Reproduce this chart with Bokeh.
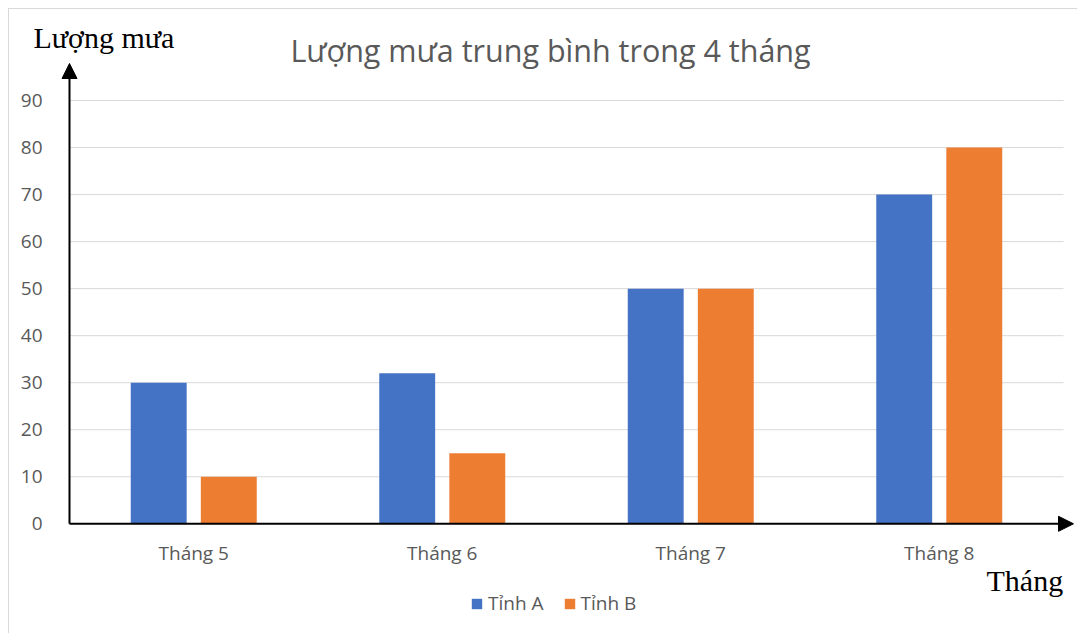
from bokeh.plotting import figure
from bokeh.models import (Range1d, FixedTicker, Arrow, NormalHead, Label,
                          Legend, LegendItem, ColumnDataSource)
from bokeh.transform import dodge
from bokeh.embed import file_html
from bokeh.resources import INLINE

months = ["Tháng 5", "Tháng 6", "Tháng 7", "Tháng 8"]
tinh_a = [30, 32, 50, 70]
tinh_b = [10, 15, 50, 80]
series_names = ["Tỉnh A", "Tỉnh B"]
y_ticks = [0, 10, 20, 30, 40, 50, 60, 70, 80, 90]
grid_ticks = [10, 20, 30, 40, 50, 60, 70, 80, 90]
title_text = "Lượng mưa trung bình trong 4 tháng"
y_title = "Lượng mưa"
x_title = "Tháng"

BLUE = "#4472C4"
ORANGE = "#ED7D31"
GRAY = "#595959"
GRID = "#D9D9D9"
SANS = "Open Sans"
SERIF = "Liberation Serif"

n = len(months)
pos = [i + 0.5 for i in range(n)]
src = ColumnDataSource(dict(x=pos, a=tinh_a, b=tinh_b))

# pixel geometry (page coordinates) -> data ranges
PX_X = 248.5          # pixels per category
PX_Y = 4.7033         # pixels per unit
X0, Y0 = 69, 523.3    # page position of the origin
FL, FR, FT, FB = 20, 1077, 15, 625   # frame edges on the page

x_start = (FL - X0) / PX_X
x_end = (FR - X0) / PX_X
y_start = (Y0 - FB) / PX_Y
y_end = (Y0 - FT) / PX_Y

W, H = 1069, 625
OX, OY = 9, 9   # canvas origin on page (margin + border)

p = figure(width=W, height=H,
           x_range=Range1d(x_start, x_end), y_range=Range1d(y_start, y_end),
           output_backend="svg", toolbar_location=None,
           min_border_left=FL - OX, min_border_right=W - (FR - OX),
           min_border_top=FT - OY, min_border_bottom=H - (FB - OY),
           background_fill_color="white", border_fill_color="white",
           outline_line_color=None)
p.styles = {"margin-left": "8px", "margin-top": "8px",
            "border-top": "1px solid #D9D9D9", "border-left": "1px solid #D9D9D9"}

p.xgrid.grid_line_color = None
p.ygrid.grid_line_color = None

# gridlines
p.segment(x0=[0] * len(grid_ticks), x1=[n] * len(grid_ticks),
          y0=grid_ticks, y1=grid_ticks, line_color=GRID, line_width=1)

BW = 0.225
OFF = 0.141
ra = p.vbar(x=dodge("x", -OFF), top="a", width=BW, bottom=0, source=src,
            fill_color=BLUE, line_color=None)
rb = p.vbar(x=dodge("x", OFF), top="b", width=BW, bottom=0, source=src,
            fill_color=ORANGE, line_color=None)

# axes
p.yaxis.ticker = FixedTicker(ticks=y_ticks)
p.xaxis.ticker = FixedTicker(ticks=pos)
p.xaxis.major_label_overrides = {pv: m for pv, m in zip(pos, months)}
for ax in (p.xaxis, p.yaxis):
    ax.axis_line_color = None
    ax.major_tick_line_color = None
    ax.minor_tick_line_color = None
    ax.major_label_text_color = GRAY
    ax.major_label_text_font = SANS
    ax.major_label_text_font_size = "19px"
p.yaxis.major_label_standoff = FL - 48      # labels end at page x=48
p.xaxis.major_label_standoff = 533 - FB     # labels start at page y~533

# axis arrows
head = dict(size=15, fill_color="black", line_color="black")
p.add_layout(Arrow(end=NormalHead(**head), x_start=0, y_start=0,
                   x_end=0, y_end=(Y0 - 63) / PX_Y,
                   line_color="black", line_width=2))
p.add_layout(Arrow(end=NormalHead(**head), x_start=0, y_start=0,
                   x_end=(1073 - X0) / PX_X, y_end=0,
                   line_color="black", line_width=2))

# texts
p.add_layout(Label(x=(550 - X0) / PX_X, y=(Y0 - 49) / PX_Y, text=title_text,
                   text_align="center", text_baseline="alphabetic",
                   text_font=SANS, text_font_size="30.5px", text_color=GRAY))
p.add_layout(Label(x=(33 - X0) / PX_X, y=(Y0 - 37) / PX_Y, text=y_title,
                   text_align="left", text_baseline="alphabetic",
                   text_font=SERIF, text_font_size="30px", text_color="black"))
p.add_layout(Label(x=(986 - X0) / PX_X, y=(Y0 - 580) / PX_Y, text=x_title,
                   text_align="left", text_baseline="alphabetic",
                   text_font=SERIF, text_font_size="30px", text_color="black"))

legend = Legend(items=[LegendItem(label=series_names[0], renderers=[ra]),
                       LegendItem(label=series_names[1], renderers=[rb])],
                orientation="horizontal", location=(470 - FL, FB - 616),
                glyph_width=13, glyph_height=13, label_standoff=5, spacing=19,
                padding=0, margin=0, border_line_color=None,
                background_fill_alpha=0,
                label_text_font=SANS, label_text_font_size="19px",
                label_text_color=GRAY)
p.add_layout(legend)

open("out.html", "w").write(file_html(p, INLINE))
